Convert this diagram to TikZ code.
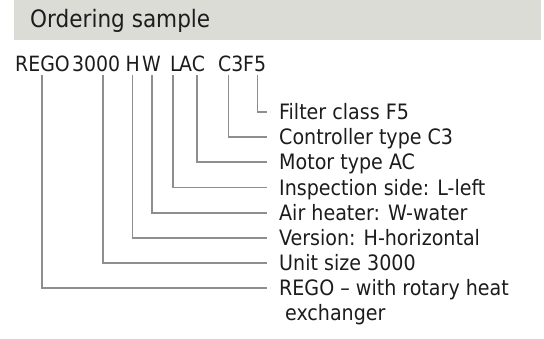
\documentclass[tikz,border=0pt]{standalone}
\usepackage{fontspec}
\setmainfont{DejaVu Sans Condensed}
\definecolor{bandgray}{HTML}{DCDCD7}
\definecolor{leadgray}{HTML}{8E8E8E}
\definecolor{inkgray}{HTML}{1C1C1C}
\begin{document}
\begin{tikzpicture}[x=1pt,y=-1pt,text=inkgray,
  codepart/.style={anchor=base west,inner sep=0pt,font=\fontsize{21}{25}\selectfont},
  desc/.style={anchor=base west,inner xsep=12pt,inner ysep=0pt,align=left,
    font=\fontsize{21.2}{25.1}\selectfont},
  leader/.style={draw=leadgray,line width=1.5pt}]
  \useasboundingbox (0,0) rectangle (544,338);
  % heading band
  \fill[bandgray] (14,0) rectangle (541,40);
  \node[anchor=base west,inner sep=0pt,font=\fontsize{24}{28}\selectfont]
    (head) at (30,27) {Ordering sample};
  % the code, part by part
  \node[codepart] (rego) at (15,71) {REGO};
  \node[codepart] (size) at (72,71) {3000};
  \node[codepart] (vers) at (125.5,71) {H};
  \node[codepart] (heat) at (142,71) {W};
  \node[codepart] (side) at (170,71) {L};
  \node[codepart] (motor) at (179,71) {AC};
  \node[codepart] (ctrl) at (218,71) {C3};
  \node[codepart] (filt) at (243,71) {F5};
  % tick points under the code
  \coordinate (t-rego) at (42,75);
  \coordinate (t-size) at (103,75);
  \coordinate (t-vers) at (132.5,75);
  \coordinate (t-heat) at (152,75);
  \coordinate (t-side) at (173,75);
  \coordinate (t-motor) at (197,75);
  \coordinate (t-ctrl) at (228.5,75);
  \coordinate (t-filt) at (257.5,75);
  % descriptions (base of the last line sits at the given point)
  \node[desc] (d-filt) at (267,119.5) {Filter class F5};
  \node[desc] (d-ctrl) at (267,144.5) {Controller type C3};
  \node[desc] (d-motor) at (267,169.5) {Motor type AC};
  \node[desc] (d-side) at (267,195) {Inspection side: L-left};
  \node[desc] (d-heat) at (267,220.5) {Air heater: W-water};
  \node[desc] (d-vers) at (267,245.5) {Version: H-horizontal};
  \node[desc] (d-size) at (267,270.5) {Unit size 3000};
  \node[desc] (d-rego) at (267,320.6)
    {REGO – with rotary heat\\\hspace*{6pt}exchanger};
  % leaders
  \draw[leader] (t-filt) |- ([yshift=7.5pt]d-filt.base west);
  \draw[leader] (t-ctrl) |- ([yshift=7.5pt]d-ctrl.base west);
  \draw[leader] (t-motor) |- ([yshift=7.5pt]d-motor.base west);
  \draw[leader] (t-side) |- ([yshift=7.5pt]d-side.base west);
  \draw[leader] (t-heat) |- ([yshift=7.5pt]d-heat.base west);
  \draw[leader] (t-vers) |- ([yshift=7.5pt]d-vers.base west);
  \draw[leader] (t-size) |- ([yshift=7.5pt]d-size.base west);
  \draw[leader] (t-rego) |- ([yshift=32.6pt]d-rego.base west);
\end{tikzpicture}
\end{document}
